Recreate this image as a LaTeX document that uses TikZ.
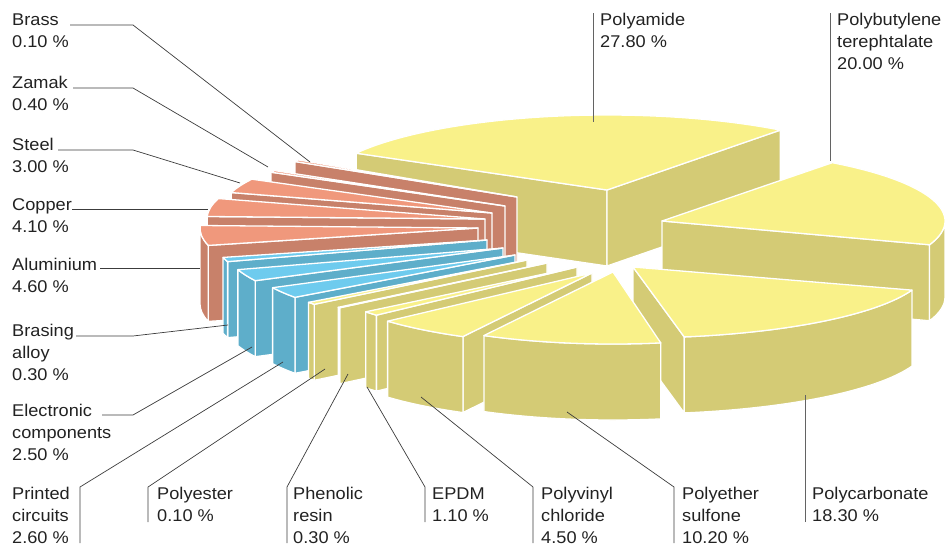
\documentclass[tikz,border=0pt]{standalone}
\usepackage{fontspec}
\setmainfont{Liberation Sans}
\definecolor{ytop}{RGB}{249,241,137}
\definecolor{yside}{RGB}{212,203,117}
\definecolor{stop}{RGB}{240,152,124}
\definecolor{sside}{RGB}{200,129,106}
\definecolor{btop}{RGB}{110,203,238}
\definecolor{bside}{RGB}{94,174,202}
\definecolor{lbl}{RGB}{34,34,34}
\definecolor{ldk}{RGB}{60,60,60}
\def\hh{76}
\newcommand\pieslice[9]{%
 \pgfmathsetmacro\Tx{#2}%
 \pgfmathsetmacro\Ty{-(#3)}%
 \pgfmathsetmacro\Tyb{\Ty-\hh}%
 \pgfmathsetmacro\Ax{#2+#6*cos(#4)}%
 \pgfmathsetmacro\Ay{\Ty+#7*sin(#4)}%
 \pgfmathsetmacro\Ayb{\Ay-\hh}%
 \pgfmathsetmacro\Bx{#2+#6*cos(#5)}%
 \pgfmathsetmacro\By{\Ty+#7*sin(#5)}%
 \pgfmathsetmacro\Byb{\By-\hh}%
 \pgfmathtruncatemacro\visA{cos(#4)>0}%
 \pgfmathtruncatemacro\visB{cos(#5)<0}%
 \pgfmathsetmacro\Sang{max(#4,180)}%
 \pgfmathsetmacro\Eang{min(#5,360)}%
 \pgfmathtruncatemacro\visC{\Sang<\Eang}%
 \ifnum\visB=1 \filldraw[face,fill=#9] (\Tx,\Ty) -- (\Bx,\By) -- (\Bx,\Byb) -- (\Tx,\Tyb) -- cycle;\fi
 \ifnum\visA=1 \filldraw[face,fill=#9] (\Tx,\Ty) -- (\Ax,\Ay) -- (\Ax,\Ayb) -- (\Tx,\Tyb) -- cycle;\fi
 \ifnum\visC=1
   \pgfmathsetmacro\Sx{#2+#6*cos(\Sang)}%
   \pgfmathsetmacro\Sy{\Ty+#7*sin(\Sang)}%
   \filldraw[face,fill=#9] (\Sx,\Sy) arc[start angle=\Sang,end angle=\Eang,x radius=#6pt,y radius=#7pt] -- ++(0,-\hh) arc[start angle=\Eang,end angle=\Sang,x radius=#6pt,y radius=#7pt] -- cycle;
 \fi
 \filldraw[face,fill=#8] (\Tx,\Ty) -- (\Ax,\Ay) arc[start angle=#4,end angle=#5,x radius=#6pt,y radius=#7pt] -- cycle;
 \coordinate (#1) at (\Tx,\Ty);
}
\begin{document}
\begin{tikzpicture}[x=1pt,y=1pt,
  face/.style={draw=white,line width=1.3pt,line join=round},
  lab/.style={anchor=base west,inner sep=0pt,text=lbl,font=\fontsize{17}{22}\selectfont,xscale=1.07},
  ldr/.style={draw=ldk,line width=0.7pt},
  vld/.style={draw=ldk!80,line width=1pt}]
\useasboundingbox (0,0) rectangle (945,-546);
% slices, back to front
\pieslice{sPolyamide}{607}{190}{53}{150.6}{288}{75}{ytop}{yside}
\pieslice{sPBT}{662}{221}{341}{413}{283}{73}{ytop}{yside}
\pieslice{sBrass}{517}{197}{149}{150.5}{255}{72}{stop}{sside}
\pieslice{sZamak}{505}{206}{150.5}{152}{265}{72}{stop}{sside}
\pieslice{sSteel}{492}{213}{152}{163.5}{272}{72}{stop}{sside}
\pieslice{sCopper}{485}{219}{163.5}{178}{278}{72}{stop}{sside}
\pieslice{sAlu}{478}{228}{178}{194}{278}{72}{stop}{sside}
\pieslice{sBrasing}{487}{240}{194}{197.5}{272}{72}{btop}{bside}
\pieslice{sElec}{503}{248}{197.5}{207}{278}{72}{btop}{bside}
\pieslice{sPrinted}{515}{255}{207}{216}{272}{72}{btop}{bside}
\pieslice{sPolyester}{527}{260}{216}{218}{270}{72}{ytop}{yside}
\pieslice{sPhenolic}{547}{263}{218}{218.5}{265}{72}{ytop}{yside}
\pieslice{sEPDM}{577}{267}{218.5}{222}{270}{72}{ytop}{yside}
\pieslice{sPVC}{592}{273}{222}{242}{275}{72}{ytop}{yside}
\pieslice{sPC}{633}{267}{280}{341}{295}{71}{ytop}{yside}
\pieslice{sPES}{613}{272}{242}{280}{275}{72}{ytop}{yside}
% labels
\node[lab] (tBrass) at (12,-25) {Brass};
\node[lab] (tBrassB) at (12,-47) {0.10 \%};
\node[lab] (tZamak) at (12,-88) {Zamak};
\node[lab] (tZamakB) at (12,-110) {0.40 \%};
\node[lab] (tSteel) at (12,-150) {Steel};
\node[lab] (tSteelB) at (12,-172) {3.00 \%};
\node[lab] (tCopper) at (12,-210) {Copper};
\node[lab] (tCopperB) at (12,-232) {4.10 \%};
\node[lab] (tAlu) at (12,-270) {Aluminium};
\node[lab] (tAluB) at (12,-292) {4.60 \%};
\node[lab] (tBrasing) at (12,-336) {Brasing};
\node[lab] (tBrasingB) at (12,-358) {alloy};
\node[lab] (tBrasingC) at (12,-380) {0.30 \%};
\node[lab] (tElec) at (12,-416) {Electronic};
\node[lab] (tElecB) at (12,-438) {components};
\node[lab] (tElecC) at (12,-460) {2.50 \%};
\node[lab] (tPrinted) at (12,-499) {Printed};
\node[lab] (tPrintedB) at (12,-521) {circuits};
\node[lab] (tPrintedC) at (12,-543) {2.60 \%};
\node[lab] (tPolyester) at (157,-499) {Polyester};
\node[lab] (tPolyesterB) at (157,-521) {0.10 \%};
\node[lab] (tPhen) at (293,-499) {Phenolic};
\node[lab] (tPhenB) at (293,-521) {resin};
\node[lab] (tPhenC) at (293,-543) {0.30 \%};
\node[lab] (tEPDM) at (432,-499) {EPDM};
\node[lab] (tEPDMB) at (432,-521) {1.10 \%};
\node[lab] (tPVC) at (541,-499) {Polyvinyl};
\node[lab] (tPVCB) at (541,-521) {chloride};
\node[lab] (tPVCC) at (541,-543) {4.50 \%};
\node[lab] (tPES) at (682,-499) {Polyether};
\node[lab] (tPESB) at (682,-521) {sulfone};
\node[lab] (tPESC) at (682,-543) {10.20 \%};
\node[lab] (tPC) at (812,-499) {Polycarbonate};
\node[lab] (tPCB) at (812,-521) {18.30 \%};
\node[lab] (tPA) at (600,-25) {Polyamide};
\node[lab] (tPAB) at (600,-47) {27.80 \%};
\node[lab] (tPBT) at (837,-25) {Polybutylene};
\node[lab] (tPBTB) at (837,-47) {terephtalate};
\node[lab] (tPBTC) at (837,-69) {20.00 \%};
% leader points
\coordinate (a1) at (70,-25); \coordinate (a2) at (133,-25); \coordinate (a3) at (310,-162);
\coordinate (b1) at (73,-88); \coordinate (b2) at (133,-88); \coordinate (b3) at (268,-167);
\coordinate (c1) at (58,-150); \coordinate (c2) at (133,-150); \coordinate (c3) at (240,-183);
\coordinate (d1) at (72,-209); \coordinate (d3) at (208,-209);
\coordinate (e1) at (100,-268); \coordinate (e3) at (200,-268);
\coordinate (f1) at (76,-336); \coordinate (f2) at (133,-336); \coordinate (f3) at (228,-325);
\coordinate (g1) at (102,-415); \coordinate (g2) at (133,-415); \coordinate (g3) at (252,-347);
\coordinate (h1) at (80,-543); \coordinate (h2) at (80,-487); \coordinate (h3) at (283,-362);
\coordinate (i1) at (148,-522); \coordinate (i2) at (148,-487); \coordinate (i3) at (325,-369);
\coordinate (j1) at (287,-543); \coordinate (j2) at (287,-487); \coordinate (j3) at (348,-374);
\coordinate (k1) at (425,-522); \coordinate (k2) at (425,-487); \coordinate (k3) at (367,-387);
\coordinate (l1) at (533,-543); \coordinate (l2) at (533,-487); \coordinate (l3) at (421,-397);
\coordinate (m1) at (674,-543); \coordinate (m2) at (674,-487); \coordinate (m3) at (567,-412);
\coordinate (n1) at (805,-522); \coordinate (n3) at (805,-395);
\coordinate (o1) at (593,-13); \coordinate (o3) at (593,-122);
\coordinate (p1) at (830,-13); \coordinate (p3) at (830,-161);
\draw[ldr] (a1) -- (a2) -- (a3);
\draw[ldr] (b1) -- (b2) -- (b3);
\draw[ldr] (c1) -- (c2) -- (c3);
\draw[ldr] (d1) -- (d3);
\draw[ldr] (e1) -- (e3);
\draw[ldr] (f1) -- (f2) -- (f3);
\draw[ldr] (g1) -- (g2) -- (g3);
\draw[ldr] (h1) -- (h2) -- (h3);
\draw[ldr] (i1) -- (i2) -- (i3);
\draw[ldr] (j1) -- (j2) -- (j3);
\draw[ldr] (k1) -- (k2) -- (k3);
\draw[ldr] (l1) -- (l2) -- (l3);
\draw[ldr] (m1) -- (m2) -- (m3);
\draw[vld] (n1) -- (n3);
\draw[vld] (o1) -- (o3);
\draw[vld] (p1) -- (p3);
\end{tikzpicture}
\end{document}
